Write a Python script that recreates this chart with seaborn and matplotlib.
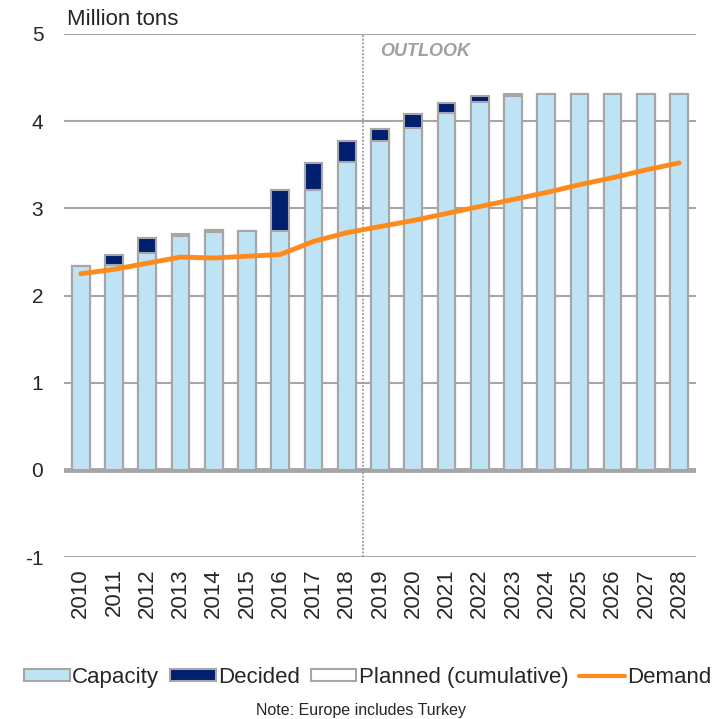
import numpy as np
import pandas as pd
import matplotlib
matplotlib.use("Agg")
import matplotlib.pyplot as plt
import seaborn as sns
from matplotlib.patches import Patch
from matplotlib.lines import Line2D

years = [str(y) for y in range(2010, 2029)]
capacity = [2.34, 2.35, 2.49, 2.68, 2.73, 2.74, 2.74, 3.21, 3.53, 3.77,
            3.92, 4.09, 4.22, 4.29, 4.31, 4.31, 4.31, 4.31, 4.31]
decided = [0.00, 0.12, 0.17, 0.00, 0.02, 0.00, 0.47, 0.31, 0.24, 0.14,
           0.16, 0.12, 0.07, 0.00, 0.00, 0.00, 0.00, 0.00, 0.00]
planned = [0.00, 0.00, 0.00, 0.02, 0.00, 0.00, 0.00, 0.00, 0.00, 0.00,
           0.00, 0.00, 0.00, 0.02, 0.00, 0.00, 0.00, 0.00, 0.00]
demand = [2.25, 2.30, 2.37, 2.44, 2.43, 2.45, 2.47, 2.62, 2.72, 2.79,
          2.86, 2.94, 3.02, 3.10, 3.18, 3.27, 3.35, 3.44, 3.52]

df = pd.DataFrame({"year": years, "capacity": capacity,
                   "decided": decided, "planned": planned, "demand": demand})
df["cap_dec"] = df["capacity"] + df["decided"]
df["total"] = df["cap_dec"] + df["planned"]

light_blue = "#bde3f5"
navy = "#001f6e"
edge = "#a6a6a6"
orange = "#ff8a1c"

sns.set_style("white")
plt.rcParams["font.family"] = ["Liberation Sans", "DejaVu Sans"]
plt.rcParams["axes.unicode_minus"] = False

fig = plt.figure(figsize=(7.21, 7.19), dpi=100)
ax = fig.add_axes([0.089, 0.225, 0.876, 0.728])

for y in range(-1, 6):
    ax.axhline(y, color="#a6a6a6", lw=1.5 if y != 0 else 3.5, zorder=0)

bar_kw = dict(width=0.53, edgecolor=edge, linewidth=1.5, ax=ax)
sns.barplot(data=df, x="year", y="total", color="white", saturation=1, **bar_kw)
sns.barplot(data=df, x="year", y="cap_dec", color=navy, saturation=1, **bar_kw)
sns.barplot(data=df, x="year", y="capacity", color=light_blue, saturation=1, **bar_kw)

sns.lineplot(x=np.arange(len(years)), y=df["demand"].values, color=orange,
             lw=3.5, ax=ax, zorder=5)

ax.axvline(8.5, color="#999999", ls=(0, (1, 1)), lw=1.3, zorder=1)
ax.text(9.0, 4.8, "OUTLOOK", color="#a0a0a0", fontsize=13,
        fontstyle="italic", fontweight="bold", va="center")

ax.set_xlim(-0.5, 18.5)
ax.set_ylim(-1, 5)
ax.set_yticks(range(-1, 6))
ax.set_xlabel("")
ax.set_ylabel("")
ax.tick_params(axis="x", labelsize=16, rotation=90, length=0, pad=8)
ax.tick_params(axis="y", labelsize=15, length=0, pad=15)
for s in ax.spines.values():
    s.set_visible(False)

ax.text(0.005, 1.008, "Million tons", transform=ax.transAxes,
        fontsize=16, va="bottom", ha="left")

handles = [
    Patch(facecolor=light_blue, edgecolor=edge, lw=1.5),
    Patch(facecolor=navy, edgecolor=edge, lw=1.5),
    Patch(facecolor="white", edgecolor=edge, lw=1.5),
    Line2D([0], [0], color=orange, lw=3),
]
labels = ["Capacity", "Decided", "Planned (cumulative)", "Demand"]
fig.legend(handles, labels, loc="center", bbox_to_anchor=(0.51, 0.058),
           ncol=4, frameon=False, fontsize=16, handlelength=2.05,
           handleheight=0.45, handletextpad=0.1, columnspacing=0.5,
           borderpad=0, borderaxespad=0)

fig.text(0.5, 0.002, "Note: Europe includes Turkey", ha="center",
         va="bottom", fontsize=11.5)

fig.savefig("out.png", dpi=100)
